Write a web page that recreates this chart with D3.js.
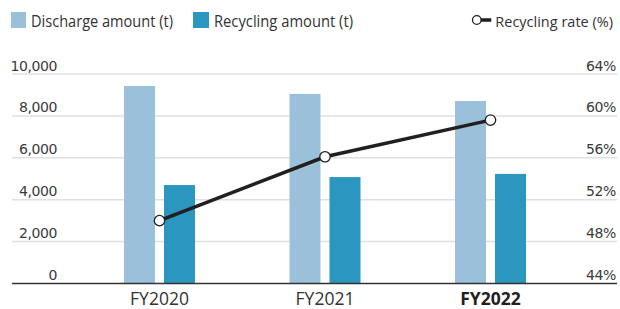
<!DOCTYPE html>
<html><head><meta charset="utf-8">
<script src="https://cdn.jsdelivr.net/npm/d3@7"></script>
<style>body{margin:0;background:#fff}svg{display:block}</style>
</head><body>
<svg id="c" width="620" height="309"></svg>
<script>
const categories = ["FY2020", "FY2021", "FY2022"];
const discharge = [9430, 9050, 8710];
const recycling = [4700, 5080, 5230];
const rate = [50.0, 56.1, 59.6];
const leftTicks = [0, 2000, 4000, 6000, 8000, 10000];
const rightTicks = [44, 48, 52, 56, 60, 64];
const seriesNames = ["Discharge amount (t)", "Recycling amount (t)", "Recycling rate (%)"];

(function () {
const svg = d3.select("#c");
const plotL = 12, plotR = 617, plotTop = 74, plotBottom = 283.5;
const colD = "#9bc1da", colR = "#2b96c0", lineCol = "#231f20";

const x = d3.scalePoint().domain(categories).range([159.5, 490.5]);
const yL = d3.scaleLinear().domain([0, 10000]).range([plotBottom, plotTop]);
const yR = d3.scaleLinear().domain([44, 64]).range([plotBottom, plotTop]);

svg.append("g").selectAll("line").data(leftTicks.filter(d => d > 0)).join("line")
  .attr("x1", plotL).attr("x2", plotR)
  .attr("y1", d => yL(d)).attr("y2", d => yL(d))
  .attr("stroke", "#e0e0e0").attr("stroke-width", 1.5);

const numFont = "'DejaVu Sans', sans-serif";
svg.append("g").selectAll("text").data(leftTicks).join("text")
  .attr("x", 57).attr("y", d => yL(d) - 3.5)
  .attr("text-anchor", "end")
  .attr("font-family", numFont).attr("font-size", 14).attr("fill", "#3a3a3a")
  .attr("letter-spacing", "-0.4")
  .text(d => d3.format(",")(d));
svg.append("g").selectAll("text").data(rightTicks).join("text")
  .attr("x", 616).attr("y", d => yR(d) - 3.5)
  .attr("text-anchor", "end")
  .attr("font-family", numFont).attr("font-size", 14).attr("fill", "#3a3a3a")
  .attr("letter-spacing", "-0.4")
  .text(d => d + "%");

const bw = 31, gap = 9;
svg.append("g").selectAll("rect").data(discharge).join("rect")
  .attr("x", (d, i) => x(categories[i]) - gap / 2 - bw)
  .attr("width", bw)
  .attr("y", d => yL(d)).attr("height", d => plotBottom - yL(d))
  .attr("fill", colD);
svg.append("g").selectAll("rect").data(recycling).join("rect")
  .attr("x", (d, i) => x(categories[i]) + gap / 2)
  .attr("width", bw)
  .attr("y", d => yL(d)).attr("height", d => plotBottom - yL(d))
  .attr("fill", colR);

svg.append("line").attr("x1", plotL).attr("x2", plotR)
  .attr("y1", plotBottom).attr("y2", plotBottom)
  .attr("stroke", "#333").attr("stroke-width", 1.5);

const pts = categories.map((c, i) => [x(c), yR(rate[i])]);
svg.append("path").attr("d", d3.line()(pts))
  .attr("fill", "none").attr("stroke", lineCol).attr("stroke-width", 3.5);
svg.append("g").selectAll("circle").data(pts).join("circle")
  .attr("cx", d => d[0]).attr("cy", d => d[1]).attr("r", 5.2)
  .attr("fill", "#fff").attr("stroke", lineCol).attr("stroke-width", 1.3);

svg.append("g").selectAll("text").data(categories).join("text")
  .attr("x", d => x(d)).attr("y", 304.5)
  .attr("text-anchor", "middle")
  .attr("font-family", "'Open Sans', sans-serif").attr("font-size", 17.5)
  .attr("font-weight", (d, i) => i === categories.length - 1 ? 700 : 400)
  .attr("fill", (d, i) => i === categories.length - 1 ? "#231f20" : "#333")
  .text(d => d);

const lg = svg.append("g").attr("font-family", "'Open Sans', sans-serif").attr("font-size", 16).attr("fill", "#333");
lg.append("rect").attr("x", 11).attr("y", 12).attr("width", 15).attr("height", 16).attr("fill", colD);
lg.append("text").attr("x", 31).attr("y", 27).text(seriesNames[0])
  .attr("textLength", 142).attr("lengthAdjust", "spacingAndGlyphs");
lg.append("rect").attr("x", 193).attr("y", 12).attr("width", 16).attr("height", 16).attr("fill", colR);
lg.append("text").attr("x", 214).attr("y", 27).text(seriesNames[1])
  .attr("textLength", 139).attr("lengthAdjust", "spacingAndGlyphs");
const rt = lg.append("text").attr("x", 613).attr("y", 27).attr("text-anchor", "end")
  .attr("font-size", 14.5).text(seriesNames[2]);
const tw = rt.node().getComputedTextLength();
const sx = 613 - tw;
lg.append("line").attr("x1", sx - 15).attr("x2", sx - 4).attr("y1", 20).attr("y2", 20)
  .attr("stroke", lineCol).attr("stroke-width", 3.5);
lg.append("circle").attr("cx", sx - 18.5).attr("cy", 20).attr("r", 4.3)
  .attr("fill", "#fff").attr("stroke", lineCol).attr("stroke-width", 1.3);
})();
</script>
</body></html>
